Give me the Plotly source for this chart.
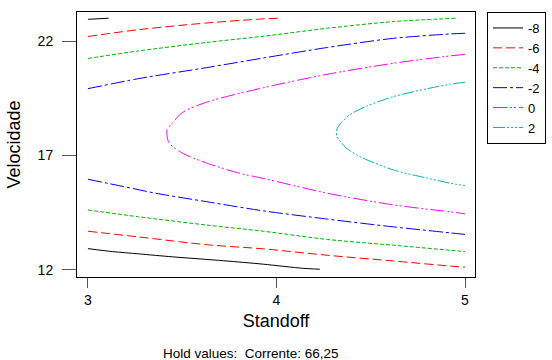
import plotly.graph_objects as go

# Contour levels (legend)
levels = ["-8", "-6", "-4", "-2", "0", "2"]
colors = ["#000000", "#FF0000", "#00B400", "#0000FF", "#FF00FF", "#00B4B4"]
dashes = ["solid", "9px,4px", "4px,2px", "14px,3px,3px,3px",
          "14px,3px,2px,2px,2px,3px", "12px,2px,2px,2px,2px,2px,2px,2px"]

# Contour lines (Standoff, Velocidade)
m8_top_x = [3.0, 3.11]
m8_top_y = [22.95, 23.0]
m8_bot_x = [3.0, 3.13, 3.27, 3.45, 3.72, 3.93, 4.14, 4.23]
m8_bot_y = [12.93, 12.80, 12.70, 12.57, 12.40, 12.25, 12.07, 12.03]

m6_top_x = [3.0, 3.27, 3.63, 3.93, 4.02]
m6_top_y = [22.2, 22.5, 22.79, 22.97, 23.0]
m6_bot_x = [3.0, 3.27, 3.63, 3.93, 4.27, 4.62, 4.92, 5.0]
m6_bot_y = [13.69, 13.44, 13.10, 12.92, 12.64, 12.39, 12.17, 12.12]

m4_top_x = [3.0, 3.27, 3.63, 3.93, 4.27, 4.62, 4.95]
m4_top_y = [21.24, 21.57, 21.94, 22.21, 22.56, 22.85, 23.0]
m4_bot_x = [3.0, 3.27, 3.63, 3.93, 4.27, 4.62, 4.92, 5.0]
m4_bot_y = [14.62, 14.32, 13.96, 13.69, 13.33, 13.08, 12.86, 12.80]

m2_top_x = [3.0, 3.27, 3.63, 3.93, 4.27, 4.62, 4.92, 5.0]
m2_top_y = [19.92, 20.36, 20.84, 21.26, 21.72, 22.12, 22.31, 22.34]
m2_bot_x = [3.0, 3.19, 3.36, 3.63, 3.93, 4.27, 4.62, 4.92, 5.0]
m2_bot_y = [15.96, 15.64, 15.35, 14.98, 14.58, 14.22, 13.88, 13.62, 13.55]

z0_x = [5.0, 4.92, 4.62, 4.27, 3.93, 3.63, 3.50, 3.45, 3.42, 3.42, 3.43,
        3.50, 3.63, 3.80, 3.93, 4.27, 4.62, 4.92, 5.0]
z0_y = [21.42, 21.35, 21.03, 20.55, 19.96, 19.33, 18.87, 18.43, 18.13, 17.85,
        17.55, 17.11, 16.67, 16.23, 16.0, 15.35, 14.84, 14.54, 14.45]

p2_x = [5.0, 4.92, 4.80, 4.62, 4.48, 4.39, 4.34, 4.32, 4.32, 4.34, 4.37,
        4.44, 4.62, 4.80, 4.92, 5.0]
p2_y = [20.2, 20.11, 19.92, 19.57, 19.16, 18.79, 18.40, 18.13, 17.84, 17.60,
        17.33, 16.96, 16.37, 16.01, 15.79, 15.68]

lines = [
    [(m8_top_x, m8_top_y), (m8_bot_x, m8_bot_y)],
    [(m6_top_x, m6_top_y), (m6_bot_x, m6_bot_y)],
    [(m4_top_x, m4_top_y), (m4_bot_x, m4_bot_y)],
    [(m2_top_x, m2_top_y), (m2_bot_x, m2_bot_y)],
    [(z0_x, z0_y)],
    [(p2_x, p2_y)],
]

FONT = "Liberation Sans, Arial, sans-serif"

fig = go.Figure()
for lev, col, dash, segs in zip(levels, colors, dashes, lines):
    for i, (xs, ys) in enumerate(segs):
        fig.add_trace(go.Scatter(
            x=xs, y=ys, mode="lines", name=lev, legendgroup=lev,
            showlegend=(i == 0),
            line=dict(color=col, width=1, dash=dash, shape="spline", smoothing=0.8),
        ))

fig.update_layout(
    width=552, height=360,
    margin=dict(l=77, r=77, t=12, b=83),
    paper_bgcolor="white", plot_bgcolor="white",
    font=dict(family=FONT, color="black", size=14),
    showlegend=True,
    legend=dict(
        xref="container", yref="container",
        x=487 / 552, xanchor="left", y=1 - 12 / 360, yanchor="top",
        bordercolor="black", borderwidth=1,
        font=dict(family=FONT, size=13, color="black"),
        tracegroupgap=0, itemwidth=30,
    ),
    xaxis=dict(
        range=[2.942, 5.053], tickvals=[3, 4, 5], ticktext=["3", "4", "5"],
        showline=True, linecolor="black", linewidth=1, mirror=True,
        ticks="outside", ticklen=10, tickcolor="#555555", showgrid=False,
        zeroline=False, tickfont=dict(size=14),
        title=dict(text="Standoff", font=dict(size=18), standoff=7),
    ),
    yaxis=dict(
        range=[11.69, 23.27], tickvals=[12, 17, 22], ticktext=["12", "17", "22"],
        showline=True, linecolor="black", linewidth=1, mirror=True,
        ticks="outside", ticklen=14, tickcolor="#555555", showgrid=False,
        zeroline=False, tickfont=dict(size=14), ticklabelstandoff=6,
        title=dict(text="Velocidade", font=dict(size=18), standoff=12),
    ),
    annotations=[dict(
        text="Hold values:  Corrente: 66,25", xref="paper", yref="paper",
        x=(251 - 77) / 398, y=(277 - 353) / 265, xanchor="center", yanchor="middle",
        showarrow=False, font=dict(family=FONT, size=13.5, color="black"),
    )],
)

fig.write_html("out.html")
